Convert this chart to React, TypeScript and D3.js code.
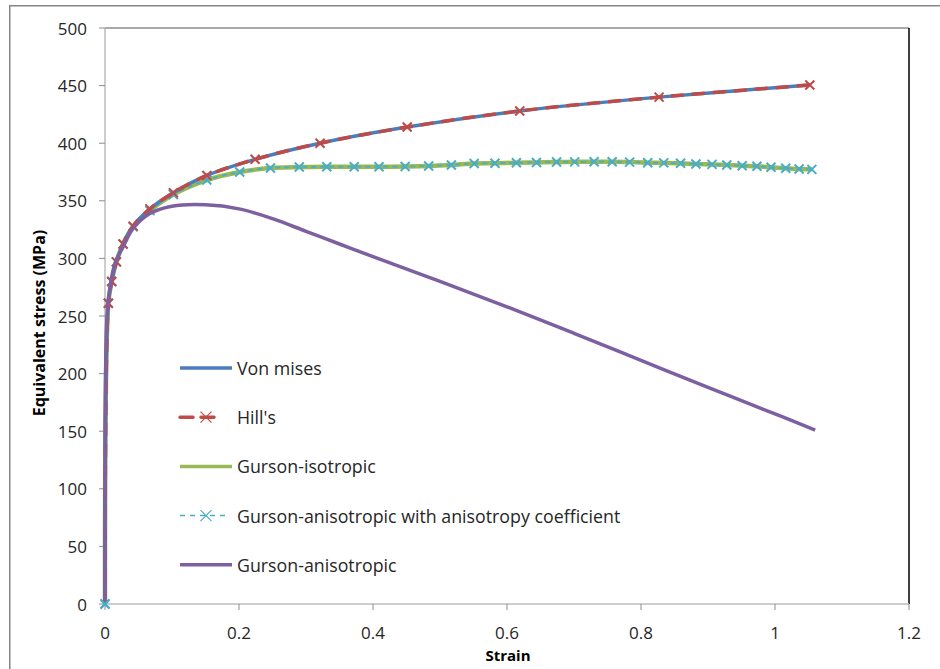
import React from "react";
import * as d3 from "d3";

// ---- Data ----
const hillStrain = [0, 0.005, 0.010, 0.017, 0.027, 0.042, 0.067, 0.102, 0.152, 0.224, 0.321, 0.451, 0.619, 0.827, 1.052];
const hillStress = [0, 261, 280, 297, 312.5, 328, 343, 357, 372, 386, 400, 414, 428, 440, 450.5];

const gursonStrain = [0, 0.005, 0.010, 0.017, 0.027, 0.042, 0.067, 0.102, 0.152, 0.201, 0.247, 0.290, 0.331, 0.372, 0.409, 0.448, 0.483, 0.517, 0.551, 0.582, 0.614, 0.644, 0.674, 0.701, 0.730, 0.757, 0.783, 0.810, 0.834, 0.859, 0.882, 0.906, 0.928, 0.951, 0.973, 0.994, 1.016, 1.036, 1.055];
const gursonStress = [0, 261, 280, 297, 312.5, 327.5, 341.5, 355.5, 368, 375, 378.5, 379.3, 379.6, 379.6, 379.6, 379.8, 380.2, 381.1, 382.4, 382.6, 383.1, 383.3, 383.7, 383.8, 383.9, 383.9, 383.6, 383.1, 382.9, 382.6, 381.9, 381.6, 381.1, 380.4, 380.0, 379.1, 378.2, 377.6, 377.3];

const purpleStrain = [0, 0.003, 0.0075, 0.015, 0.027, 0.042, 0.067, 0.1, 0.15, 0.2, 0.25, 0.3, 0.35, 0.4, 0.5, 0.6, 0.7, 0.8, 0.9, 1.0, 1.06];
const purpleStress = [0, 250, 275, 296, 310, 326, 339, 345.3, 346.5, 343, 334.5, 323.5, 312.5, 301.5, 280, 258, 235, 211.5, 188, 165, 151];

const yTicks = [0, 50, 100, 150, 200, 250, 300, 350, 400, 450, 500];
const xTicks = [0, 0.2, 0.4, 0.6, 0.8, 1, 1.2];

const legendLabels = [
  "Von mises",
  "Hill's",
  "Gurson-isotropic",
  "Gurson-anisotropic with anisotropy coefficient",
  "Gurson-anisotropic",
];

const C_BLUE = "#4A7EBB";
const C_RED = "#BE4B48";
const C_GREEN = "#98B954";
const C_CYAN = "#4BACC6";
const C_PURPLE = "#7D60A0";

type P = [number, number];
const zip = (a: number[], b: number[]): P[] => a.map((v, i) => [v, b[i]]);

export default function App() {
  const W = 940, H = 669;
  const left = 105, right = 909, top = 28, bottom = 604;
  const x = d3.scaleLinear().domain([0, 1.2]).range([left, right]);
  const y = d3.scaleLinear().domain([0, 500]).range([bottom, top]);
  const line = d3
    .line<P>()
    .x((d) => x(d[0]))
    .y((d) => y(d[1]))
    .curve(d3.curveCatmullRom.alpha(0.5));

  const hill = zip(hillStrain, hillStress);
  const gur = zip(gursonStrain, gursonStress);
  const pur = zip(purpleStrain, purpleStress);

  const font = "'Open Sans', Lato, sans-serif";

  const xMark = (cx: number, cy: number, color: string, s: number, sw: number, key: string) => (
    <path
      key={key}
      d={`M${cx - s},${cy - s}L${cx + s},${cy + s}M${cx - s},${cy + s}L${cx + s},${cy - s}`}
      stroke={color}
      strokeWidth={sw}
      fill="none"
    />
  );

  const legX0 = 180, legX1 = 232, legTextX = 237;
  const legY = (i: number) => 368 + i * 49.2;

  return (
    <svg
      width={W}
      height={H}
      style={{ position: "absolute", left: 0, top: 0, background: "#fff" }}
      fontFamily={font}
    >
      <rect x={0} y={0} width={W} height={H} fill="#fff" />
      {/* outer chart frame */}
      <rect x={9.75} y={5.75} width={W + 20} height={H + 20} fill="none" stroke="#868686" strokeWidth={1.5} />

      {/* plot area borders */}
      <line x1={left} x2={right} y1={top} y2={top} stroke="#8c8c8c" strokeWidth={1.5} />
      <line x1={right} x2={right} y1={top} y2={bottom} stroke="#000" strokeWidth={1.5} />
      <line x1={left} x2={left} y1={top} y2={bottom} stroke="#bdbdbd" strokeWidth={1.5} />
      <line x1={left} x2={right} y1={bottom} y2={bottom} stroke="#bdbdbd" strokeWidth={1.5} />

      {/* y ticks */}
      {yTicks.map((t) => (
        <g key={"y" + t}>
          <line x1={left - 6} x2={left} y1={y(t)} y2={y(t)} stroke="#8c8c8c" strokeWidth={1} />
          <text x={87} y={y(t)} textAnchor="end" dominantBaseline="central" fontSize={17} fill="#262626">
            {t}
          </text>
        </g>
      ))}
      {/* x ticks */}
      {xTicks.map((t) => (
        <g key={"x" + t}>
          <line x1={x(t)} x2={x(t)} y1={bottom} y2={bottom + 6} stroke="#8c8c8c" strokeWidth={1} />
          <text x={x(t)} y={632} textAnchor="middle" dominantBaseline="central" fontSize={17} fill="#262626">
            {d3.format("~g")(t)}
          </text>
        </g>
      ))}

      {/* axis titles */}
      <text x={508} y={655} textAnchor="middle" dominantBaseline="central" fontSize={15} fontWeight="bold" fill="#000">
        Strain
      </text>
      <text
        transform={`translate(39,323) rotate(-90)`}
        textAnchor="middle"
        dominantBaseline="central"
        fontSize={16}
        fontWeight="bold"
        fill="#000"
      >
        Equivalent stress (MPa)
      </text>

      {/* series */}
      <path d={line(gur) || ""} fill="none" stroke={C_GREEN} strokeWidth={4.5} />
      <path d={line(gur) || ""} fill="none" stroke={C_CYAN} strokeWidth={1.75} strokeDasharray="5 4" />
      {gur.map((d, i) => xMark(x(d[0]), y(d[1]), C_CYAN, 4.5, 2, "gm" + i))}

      <path d={line(hill) || ""} fill="none" stroke={C_BLUE} strokeWidth={3.5} />
      <path d={line(hill) || ""} fill="none" stroke={C_RED} strokeWidth={3.5} strokeDasharray="13 8" />
      {hill.map((d, i) => (i > 0 ? xMark(x(d[0]), y(d[1]), C_RED, 4.5, 2, "hm" + i) : null))}

      <path d={line(pur) || ""} fill="none" stroke={C_PURPLE} strokeWidth={3.5} />
      {xMark(x(0), y(0), C_CYAN, 4.5, 2, "origin")}

      {/* legend */}
      <line x1={legX0} x2={legX1} y1={legY(0)} y2={legY(0)} stroke={C_BLUE} strokeWidth={3.5} />
      <line x1={legX0} x2={221} y1={legY(1)} y2={legY(1)} stroke={C_RED} strokeWidth={3.5} strokeDasharray="13 8" strokeLinecap="round" />
      {xMark(206, legY(1), C_RED, 5.5, 1.2, "lm1")}
      <line x1={legX0} x2={legX1} y1={legY(2)} y2={legY(2)} stroke={C_GREEN} strokeWidth={3.5} />
      <line x1={legX0} x2={228} y1={legY(3)} y2={legY(3)} stroke={C_CYAN} strokeWidth={1.5} strokeDasharray="5 5" />
      {xMark(206, legY(3), C_CYAN, 5.5, 1.2, "lm3")}
      <line x1={legX0} x2={legX1} y1={legY(4)} y2={legY(4)} stroke={C_PURPLE} strokeWidth={3.5} />
      {legendLabels.map((l, i) => (
        <text key={l} x={legTextX} y={legY(i)} dominantBaseline="central" fontSize={17.8} fill="#262626">
          {l}
        </text>
      ))}
    </svg>
  );
}
